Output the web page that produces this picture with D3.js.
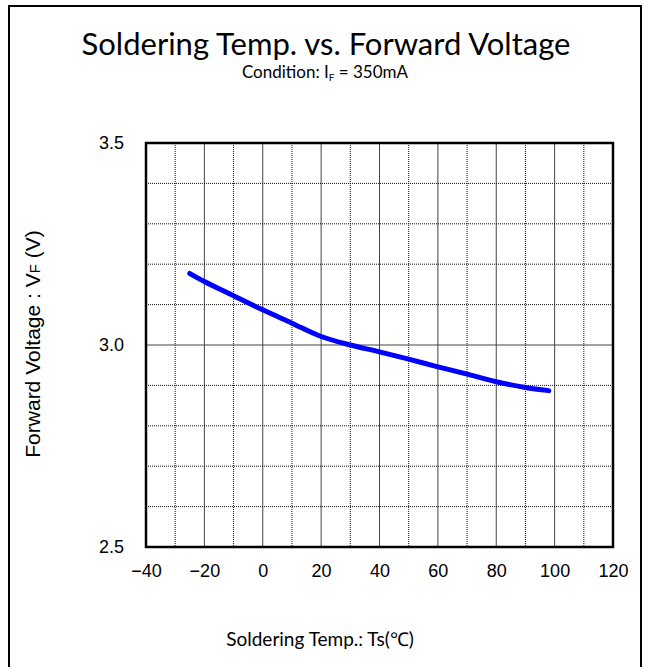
<!DOCTYPE html>
<html>
<head>
<meta charset="utf-8">
<script src="https://cdn.jsdelivr.net/npm/d3@7"></script>
<style>
  body { margin: 0; background: #fff; }
</style>
</head>
<body>
<div id="chart"></div>
<script>
// valores
const temps = [-25, -20, -10, 0, 10, 20, 30, 40, 50, 60, 70, 80, 90, 98];
const vf = [3.177, 3.157, 3.122, 3.087, 3.054, 3.021, 3.0, 2.983, 2.965, 2.946, 2.928, 2.909, 2.895, 2.887];
const xTicks = [-40, -20, 0, 20, 40, 60, 80, 100, 120];
const yTicks = [2.5, 3.0, 3.5];

const W = 648, H = 667;
const margin = { top: 143, right: 35, bottom: 120, left: 146 };
const width = 613 - margin.left, height = 547 - margin.top;

const svg = d3.select('#chart').append('svg')
    .attr('width', W)
    .attr('height', H);

// moldura externa
svg.append('rect')
    .attr('x', 9).attr('y', 6)
    .attr('width', 632).attr('height', 680)
    .attr('fill', 'none')
    .attr('stroke', '#000')
    .attr('stroke-width', 2);

const g = svg.append('g')
    .attr('transform', `translate(${margin.left},${margin.top})`);

const x = d3.scaleLinear().domain([-40, 120]).range([0, width]);
const y = d3.scaleLinear().domain([2.5, 3.5]).range([height, 0]);

// grade vertical: sólida a cada 20, pontilhada a cada 10
d3.range(-30, 120, 10).forEach(v => {
    const major = v % 20 === 0;
    g.append('line')
        .attr('x1', x(v)).attr('x2', x(v))
        .attr('y1', 0).attr('y2', height)
        .attr('stroke', major ? '#444' : '#111')
        .attr('stroke-width', 1)
        .attr('stroke-dasharray', major ? null : '1,1');
});

// grade horizontal a cada 0.1
d3.range(1, 10).forEach(i => {
    const v = 2.5 + i * 0.1;
    const major = i === 5;
    g.append('line')
        .attr('x1', 0).attr('x2', width)
        .attr('y1', y(v)).attr('y2', y(v))
        .attr('stroke', major ? '#444' : '#111')
        .attr('stroke-width', 1)
        .attr('stroke-dasharray', major ? null : '1,1');
});

// borda da área do gráfico
g.append('rect')
    .attr('width', width).attr('height', height)
    .attr('fill', 'none')
    .attr('stroke', '#000')
    .attr('stroke-width', 2.5);

// eixos
const xAxis = g.append('g')
    .attr('transform', `translate(0,${height})`)
    .call(d3.axisBottom(x).tickValues(xTicks).tickSize(0).tickPadding(17));
const yAxis = g.append('g')
    .call(d3.axisLeft(y).tickValues(yTicks).tickSize(0).tickPadding(22).tickFormat(d3.format('.1f')));

[xAxis, yAxis].forEach(a => {
    a.select('.domain').remove();
    a.selectAll('text')
        .attr('fill', '#000')
        .style('font-family', '"Liberation Sans", Arial, sans-serif')
        .style('font-size', '18px');
});

// curva
const line = d3.line()
    .x((d, i) => x(temps[i]))
    .y(d => y(d))
    .curve(d3.curveMonotoneX);

g.append('path')
    .datum(vf)
    .attr('d', line)
    .attr('fill', 'none')
    .attr('stroke', '#0000ff')
    .attr('stroke-width', 5)
    .attr('stroke-linecap', 'round');

// títulos
const titleFont = 'Lato, "Open Sans", sans-serif';

svg.append('text')
    .attr('x', 326).attr('y', 55)
    .attr('text-anchor', 'middle')
    .style('font-family', titleFont)
    .style('font-size', '31px')
    .text('Soldering Temp. vs. Forward Voltage');

const sub = svg.append('text')
    .attr('x', 325).attr('y', 78)
    .attr('text-anchor', 'middle')
    .style('font-family', titleFont)
    .style('font-size', '17px');
sub.append('tspan').text('Condition: I');
sub.append('tspan').attr('baseline-shift', '-25%').style('font-size', '10px').text('F');
sub.append('tspan').text(' = 350mA');

svg.append('text')
    .attr('x', 320).attr('y', 646)
    .attr('text-anchor', 'middle')
    .style('font-family', titleFont)
    .style('font-size', '19px')
    .text('Soldering Temp.: Ts(℃)');

const yl = svg.append('text')
    .attr('transform', 'translate(40,344) rotate(-90)')
    .attr('text-anchor', 'middle')
    .style('font-family', '"Liberation Sans", Arial, sans-serif')
    .style('font-size', '21px');
yl.append('tspan').text('Forward Voltage : V');
yl.append('tspan').style('font-size', '15px').text('F');
yl.append('tspan').text(' (V)');
</script>
</body>
</html>
